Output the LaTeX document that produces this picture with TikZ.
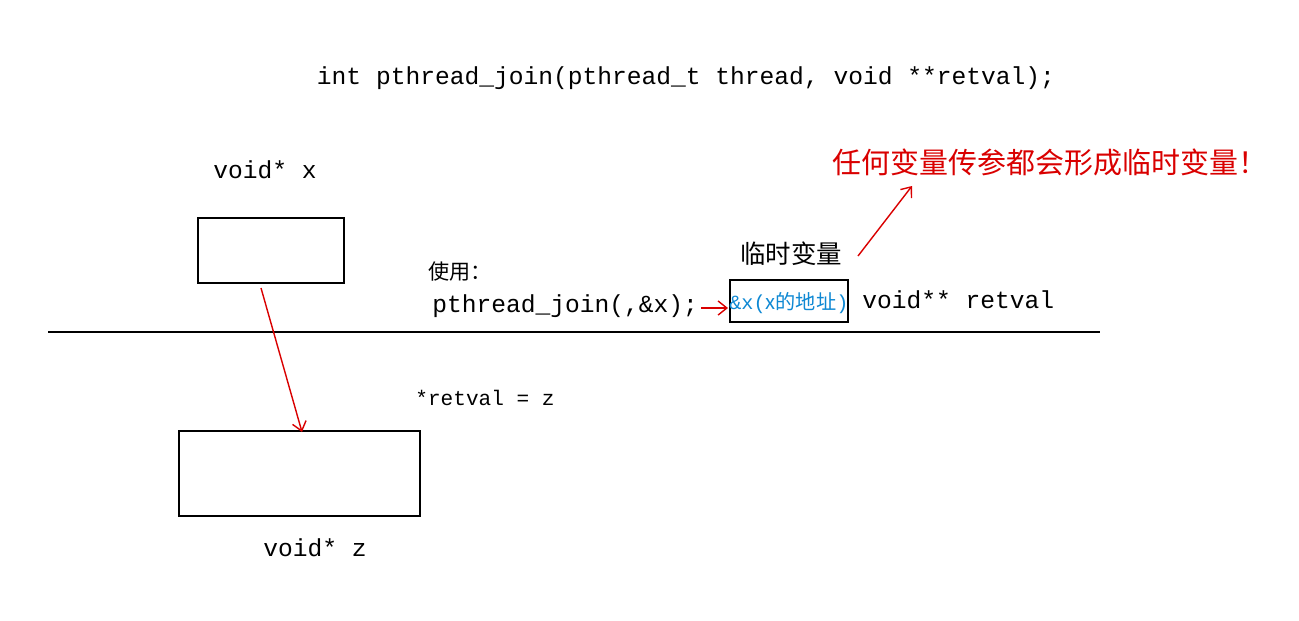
\documentclass[tikz,border=0pt]{standalone}
\usepackage{fontspec}
\setmainfont{Liberation Mono}
\newfontfamily\cjk{Noto Sans CJK SC}
\usetikzlibrary{arrows.meta}
\begin{document}
\begin{tikzpicture}[x=0.02cm,y=-0.02cm,
  box/.style={draw,line width=1.2pt},
  redarr/.style={red!85!black,line width=0.8pt,-{Straight Barb[length=5pt,width=8pt]}},
  code/.style={font=\fontsize{14pt}{15pt}\selectfont,inner sep=0pt}]
\useasboundingbox (0,0) rectangle (1299,620);
\node[code] (title) at (686,78) {int pthread\_join(pthread\_t thread, void **retval);};
\node[code] (vx) at (265,170) {void* x};
\draw[box] (198,218) rectangle (344,283);
\coordinate (xb) at (261,288);
\node[font=\cjk\fontsize{12pt}{13pt}\selectfont,inner sep=0pt] (use) at (460,272) {使用：};
\node[code,anchor=west] (call) at (432,306) {pthread\_join(,\&x);};
\draw[box] (730,280) rectangle (848,322);
\node[inner sep=0pt,anchor=west,text=cyan!70!blue,font=\fontsize{11.5pt}{12pt}\selectfont] (addr) at (729,303) {\&x({\cjk x的地址})};
\coordinate (c1) at (701,308);
\coordinate (c2) at (728,308);
\draw[redarr] (c1) -- (c2);
\node[code,anchor=west] (rv) at (862,300) {void** retval};
\node[font=\cjk\fontsize{14.5pt}{15pt}\selectfont,inner sep=0pt] (lin) at (791,254) {临时变量};
\node[font=\cjk\fontsize{16.5pt}{17pt}\selectfont,text=red!85!black,inner sep=0pt,anchor=west] (note) at (832,162) {任何变量传参都会形成临时变量！};
\coordinate (a1) at (858,256);
\coordinate (a2) at (912,186);
\draw[redarr] (a1) -- (a2);
\coordinate (l1) at (48,332);
\coordinate (l2) at (1100,332);
\draw[line width=1.2pt] (l1) -- (l2);
\node[font=\fontsize{12pt}{13pt}\selectfont,inner sep=0pt] (rz) at (485,398) {*retval = z};
\draw[box] (179,431) rectangle (420,516);
\coordinate (zb) at (302,432);
\draw[redarr] (xb) -- (zb);
\node[code] (vz) at (315,548) {void* z};
\end{tikzpicture}
\end{document}
